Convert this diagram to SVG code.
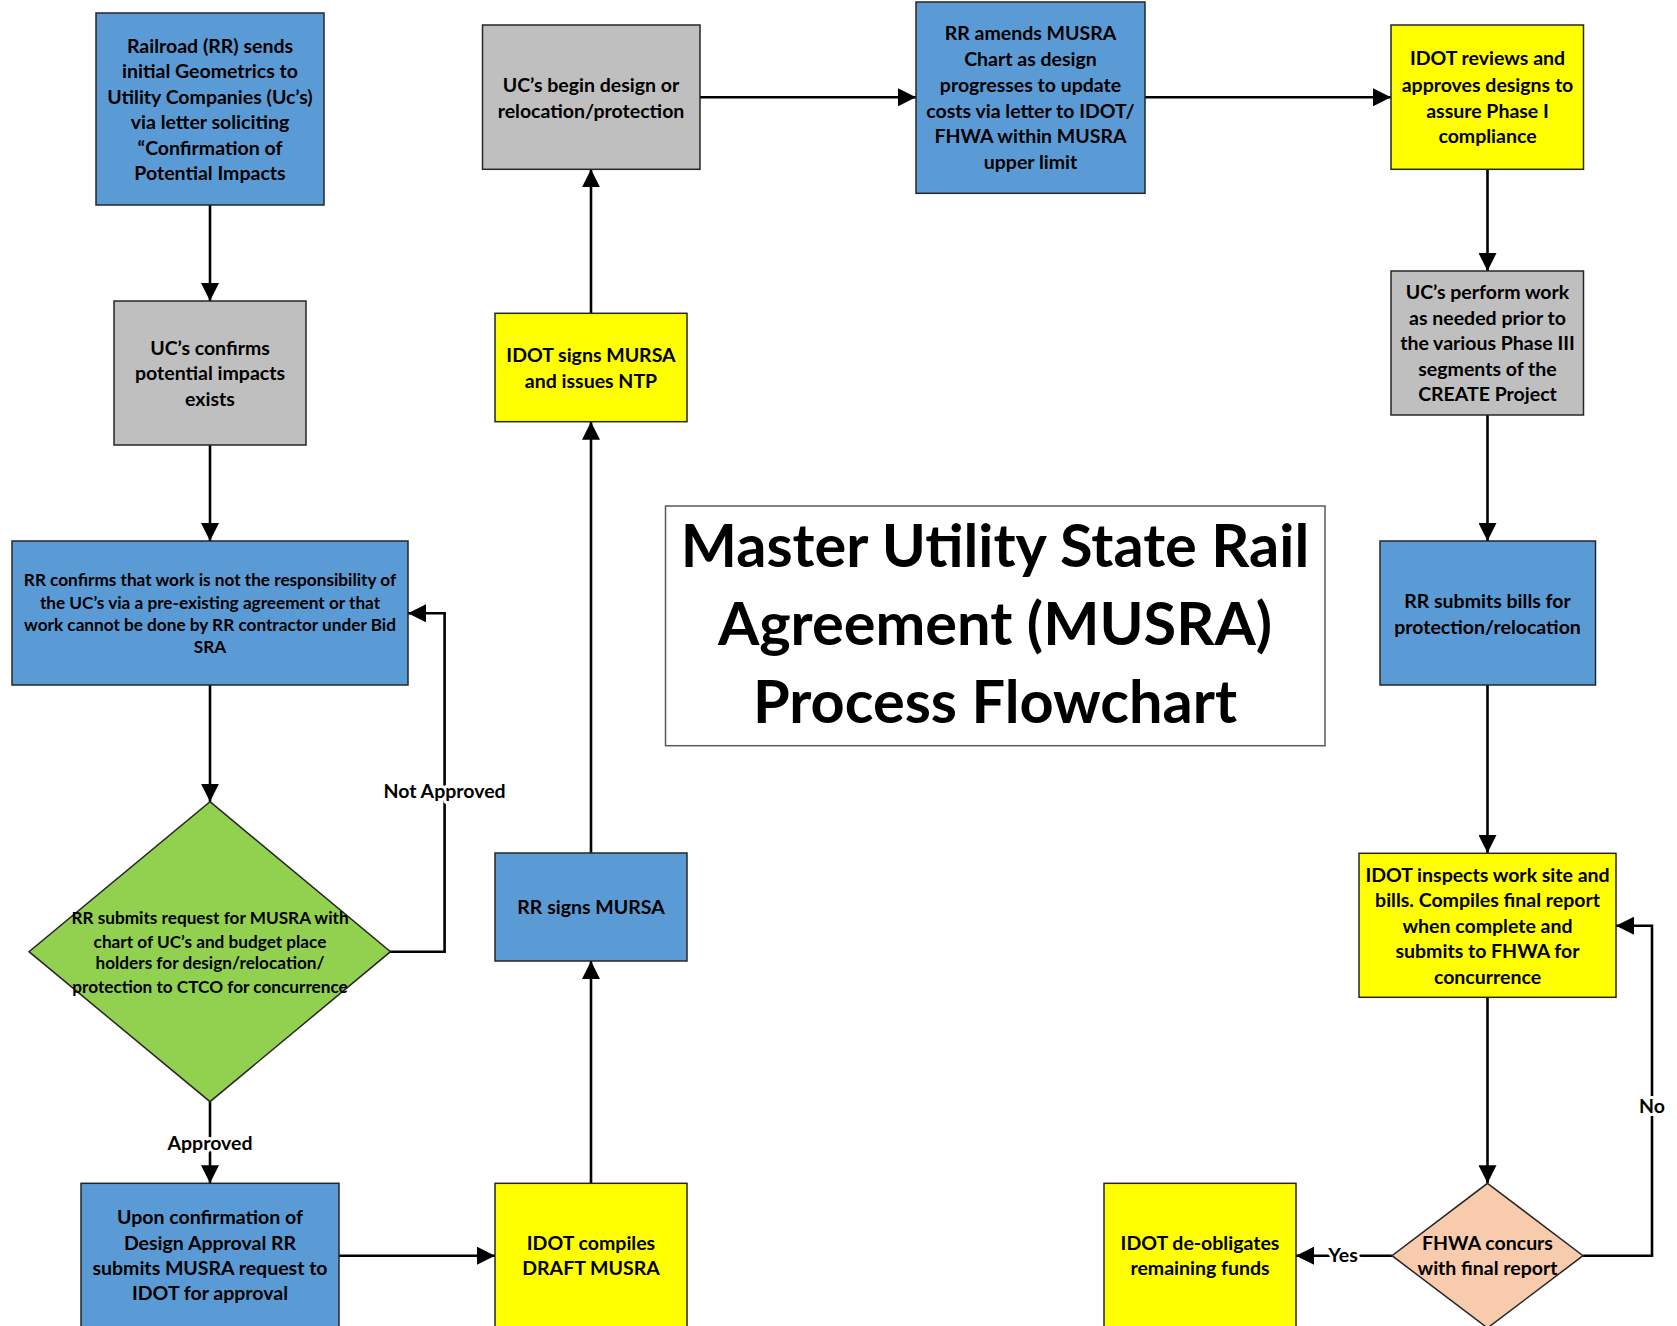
<svg xmlns="http://www.w3.org/2000/svg" width="1677" height="1326" viewBox="0 0 1677 1326">
<defs>
<style>
.n{stroke:#262626;stroke-width:1.5}
.blue{fill:#5B9BD5}.gray{fill:#BFBFBF}.yel{fill:#FFFF00}.grn{fill:#92D050}.pch{fill:#F8CBAD}
text{font-family:Lato,"Liberation Sans",sans-serif;font-weight:bold;fill:#000;text-anchor:middle}
.t{font-size:19.5px}
.s{font-size:17.2px}
.lbl{font-size:19.5px;stroke:#fff;stroke-width:6;paint-order:stroke;stroke-linejoin:round}
.c{fill:none;stroke:#000;stroke-width:2.6;marker-end:url(#ah)}
.title{font-size:59.5px}
</style>
<marker id="ah" markerUnits="userSpaceOnUse" markerWidth="18" markerHeight="18" viewBox="0 0 18 18" refX="18" refY="9" orient="auto">
<path d="M0,0 L18,9 L0,18 z" fill="#000"/>
</marker>
</defs>
<rect width="1677" height="1326" fill="#fff"/>

<g id="connectors">
<path class="c" d="M210,205 V301"/>
<path class="c" d="M210,445 V541"/>
<path class="c" d="M210,685 V801.7"/>
<path class="c" d="M390,951.7 H444.6 V613.3 H408"/>
<path class="c" d="M210,1101.7 V1183.3"/>
<path class="c" d="M339,1255.7 H495"/>
<path class="c" d="M591,1183.3 V961"/>
<path class="c" d="M591,853 V421.7"/>
<path class="c" d="M591,313 V169.3"/>
<path class="c" d="M700,97.3 H916"/>
<path class="c" d="M1145,97.3 H1391"/>
<path class="c" d="M1487.5,169.3 V271"/>
<path class="c" d="M1487.5,415 V541"/>
<path class="c" d="M1487.5,685 V853"/>
<path class="c" d="M1487.5,997 V1183.3"/>
<path class="c" d="M1583,1255.7 H1652 V925.7 H1616"/>
<path class="c" d="M1392,1255.7 H1296"/>
<text class="lbl" x="444.6" y="798">Not Approved</text>
<text class="lbl" x="210" y="1150">Approved</text>
<text class="lbl" x="1652" y="1113">No</text>
<text class="lbl" x="1343" y="1262">Yes</text>
</g>

<g id="n1">
<rect class="n blue" x="96" y="13" width="228" height="192"/>
<text class="t" x="210" y="52.7">Railroad (RR) sends</text>
<text class="t" x="210" y="78">initial Geometrics to</text>
<text class="t" x="210" y="103.7">Utility Companies (Uc’s)</text>
<text class="t" x="210" y="129.3">via letter soliciting</text>
<text class="t" x="210" y="154.7">“Confirmation of</text>
<text class="t" x="210" y="180.3">Potential Impacts</text>
</g>

<g id="n2">
<rect class="n gray" x="114" y="301" width="192" height="144"/>
<text class="t" x="210" y="354.7">UC’s confirms</text>
<text class="t" x="210" y="380.3">potential impacts</text>
<text class="t" x="210" y="405.7">exists</text>
</g>

<g id="n3">
<rect class="n blue" x="12" y="541" width="396" height="144"/>
<text class="s" x="210" y="586">RR confirms that work is not the responsibility of</text>
<text class="s" x="210" y="608.7">the UC’s via a pre-existing agreement or that</text>
<text class="s" x="210" y="631">work cannot be done by RR contractor under Bid</text>
<text class="s" x="210" y="653.3">SRA</text>
</g>

<g id="n4">
<polygon class="n grn" points="210,801.7 390.5,951.7 210,1101.7 29,951.7"/>
<text class="s" x="210" y="924.3">RR submits request for MUSRA with</text>
<text class="s" x="210" y="947.7">chart of UC’s and budget place</text>
<text class="s" x="210" y="969.3">holders for design/relocation/</text>
<text class="s" x="210" y="992.7">protection to CTCO for concurrence</text>
</g>

<g id="n5">
<rect class="n blue" x="81" y="1183.3" width="258" height="160"/>
<text class="t" x="210" y="1223.7">Upon confirmation of</text>
<text class="t" x="210" y="1249.7">Design Approval RR</text>
<text class="t" x="210" y="1274.7">submits MUSRA request to</text>
<text class="t" x="210" y="1300.3">IDOT for approval</text>
</g>

<g id="n6">
<rect class="n yel" x="495" y="1183.3" width="192" height="160"/>
<text class="t" x="591" y="1249.7">IDOT compiles</text>
<text class="t" x="591" y="1274.7">DRAFT MUSRA</text>
</g>

<g id="n7">
<rect class="n blue" x="495" y="853" width="192" height="108"/>
<text class="t" x="591" y="914.3">RR signs MURSA</text>
</g>

<g id="n8">
<rect class="n yel" x="495" y="313.3" width="192" height="108.4"/>
<text class="t" x="591" y="362">IDOT signs MURSA</text>
<text class="t" x="591" y="387.7">and issues NTP</text>
</g>

<g id="n9">
<rect class="n gray" x="482.5" y="25" width="217.5" height="144.3"/>
<text class="t" x="591" y="92">UC’s begin design or</text>
<text class="t" x="591" y="117.7">relocation/protection</text>
</g>

<g id="n10">
<rect class="n blue" x="916" y="2" width="229" height="191.3"/>
<text class="t" x="1030.5" y="40.3">RR amends MUSRA</text>
<text class="t" x="1030.5" y="66.3">Chart as design</text>
<text class="t" x="1030.5" y="92">progresses to update</text>
<text class="t" x="1030.5" y="117.7">costs via letter to IDOT/</text>
<text class="t" x="1030.5" y="143">FHWA within MUSRA</text>
<text class="t" x="1030.5" y="168.7">upper limit</text>
</g>

<g id="n11">
<rect class="n yel" x="1391" y="25" width="192.5" height="144.3"/>
<text class="t" x="1487.5" y="65.3">IDOT reviews and</text>
<text class="t" x="1487.5" y="92">approves designs to</text>
<text class="t" x="1487.5" y="117.7">assure Phase I</text>
<text class="t" x="1487.5" y="143">compliance</text>
</g>

<g id="n12">
<rect class="n gray" x="1391" y="271" width="192.5" height="144"/>
<text class="t" x="1487.5" y="298.7">UC’s perform work</text>
<text class="t" x="1487.5" y="324.7">as needed prior to</text>
<text class="t" x="1487.5" y="350.3">the various Phase III</text>
<text class="t" x="1487.5" y="376">segments of the</text>
<text class="t" x="1487.5" y="401.3">CREATE Project</text>
</g>

<g id="n13">
<rect class="n blue" x="1380" y="541" width="215.5" height="144"/>
<text class="t" x="1487.5" y="608">RR submits bills for</text>
<text class="t" x="1487.5" y="633.7">protection/relocation</text>
</g>

<g id="n14">
<rect class="n yel" x="1359" y="853.3" width="257" height="144"/>
<text class="t" x="1487.5" y="882">IDOT inspects work site and</text>
<text class="t" x="1487.5" y="907">bills. Compiles final report</text>
<text class="t" x="1487.5" y="933">when complete and</text>
<text class="t" x="1487.5" y="958">submits to FHWA for</text>
<text class="t" x="1487.5" y="983.7">concurrence</text>
</g>

<g id="n15">
<polygon class="n pch" points="1487.5,1183.3 1583,1255.7 1487.5,1328 1392,1255.7"/>
<text class="t" x="1487.5" y="1250.3">FHWA concurs</text>
<text class="t" x="1487.5" y="1275.3">with final report</text>
</g>

<g id="n16">
<rect class="n yel" x="1104" y="1183.3" width="192" height="160"/>
<text class="t" x="1200" y="1250.3">IDOT de-obligates</text>
<text class="t" x="1200" y="1274.7">remaining funds</text>
</g>

<g id="title">
<rect x="665.5" y="506" width="659.5" height="239.7" fill="#fff" stroke="#595959" stroke-width="1.5"/>
<text class="title" x="995" y="567.3">Master Utility State Rail</text>
<text class="title" x="995" y="645">Agreement (MUSRA)</text>
<text class="title" x="995" y="722.7">Process Flowchart</text>
</g>
</svg>
